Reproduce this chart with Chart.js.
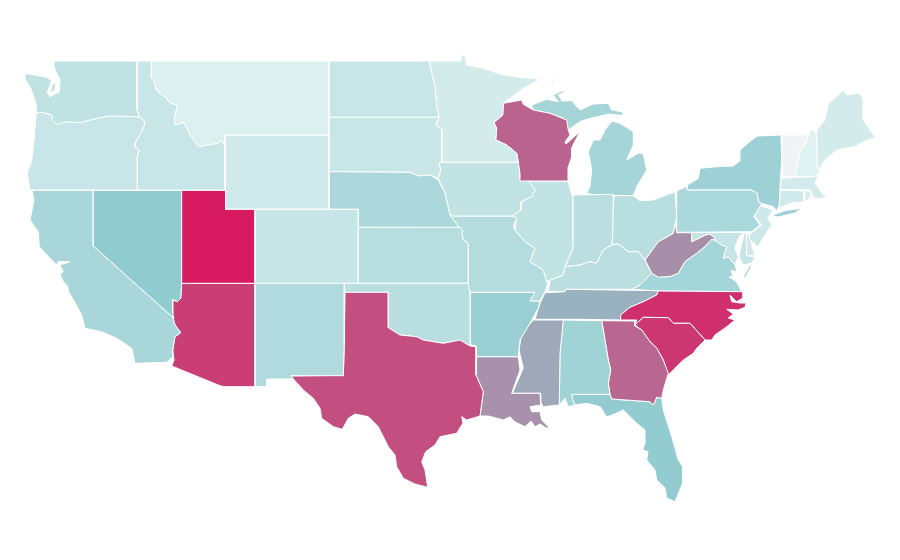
<!DOCTYPE html>
<html>
<head>
<meta charset="utf-8">
<title>US states map</title>
<script src="https://cdn.jsdelivr.net/npm/chart.js@4"></script>
<style>
    html, body { margin: 0; padding: 0; background: #fff; }
    #wrap { width: 900px; height: 560px; }
</style>
</head>
<body>
<div id="wrap"><canvas id="myChart" width="900" height="560"></canvas></div>
<script>
var stateNames = ["Washington", "Oregon", "Idaho", "Montana", "Wyoming", "Utah", "Nevada", "California", "Arizona", "Colorado", "New Mexico", "Texas", "Oklahoma", "Kansas", "Nebraska", "South Dakota", "North Dakota", "Minnesota", "Wisconsin", "Iowa", "Illinois", "Missouri", "Arkansas", "Louisiana", "Mississippi", "Alabama", "Georgia", "Florida", "South Carolina", "North Carolina", "Tennessee", "Kentucky", "Indiana", "Ohio", "Michigan", "Pennsylvania", "New York", "Vermont", "New Hampshire", "Maine", "Massachusetts", "Rhode Island", "Connecticut", "New Jersey", "Delaware", "Maryland", "Virginia", "West Virginia"];

// estimated from the shade of each state, 0 = palest, 1 = crimson
var stateValues = [0.26, 0.22, 0.22, 0.115, 0.18, 1, 0.5, 0.38, 0.9, 0.23, 0.34, 0.855, 0.3, 0.31, 0.36, 0.215, 0.22, 0.16, 0.795, 0.25, 0.25, 0.32, 0.455, 0.665, 0.6, 0.42, 0.785, 0.49, 0.92, 0.94, 0.57, 0.285, 0.285, 0.295, 0.39, 0.365, 0.435, 0.01, 0.105, 0.16, 0.16, 0.16, 0.18, 0.2, 0.19, 0.24, 0.4, 0.67];

// outline of each state in map units, one or more rings of x,y pairs
var stateOutlines = [
    [[54,61,137,61,137,110,139.3,116.7,108.7,116,93,119.3,80,122.7,66.7,121.7,56.7,124.3,52.7,120.7,51.7,115,43,112.3,36.7,112.7,36.7,106.7,35,100,30.7,88.3,25.7,80,25,73.3,35,75,46.7,77.3,51.7,80.7,47.3,92.7,50,96.7,59.3,91.7,60,80,56.7,73.3,54,66.7],
     [52,85,56,82,55,90,50,93]],
    [[36.7,112.7,43,112.3,51.7,115,52.7,120.7,56.7,124.3,66.7,121.7,80,122.7,93,119.3,108.7,116,139.3,116.7,145,121.7,143.3,128.3,135,143.3,135,147,139,150,137.3,156.7,137.3,190,30,190,27.3,173.3,31.7,160,34,140,36,115]],
    [[137,61,151.3,61,151.3,78,153.3,80,156.7,90.7,166.7,98.3,170,103.3,177.3,105,174,118.3,175,125,184,122.7,190,135,198.3,146.7,218.3,143.3,220.7,140,225,145,225,190,137.3,190,137.3,156.7,139,150,135,147,135,143.3,143.3,128.3,145,121.7,139.3,116.7,137,110]],
    [[151.3,61,329,61,329,135,225.5,135,225,145,220.7,140,218.3,143.3,198.3,146.7,190,135,184,122.7,175,125,174,118.3,177.3,105,170,103.3,166.7,98.3,156.7,90.7,153.3,80,151.3,78]],
    [[225.5,135,329,135,329,209,225.5,209]],
    [[181.7,190.3,225.5,190.3,225.5,209.3,255,209.3,255,283.3,181.7,283.3]],
    [[93.3,190.3,181.7,190.3,181.7,283.3,180.7,298.3,177.3,301.7,172.3,299.3,172.7,313.3,174,318.3,93.3,246]],
    [[32,190.3,93.3,190.3,93.3,246,174,318.3,172.7,317.3,175,325,180.7,332.7,175,336.7,172.7,350,173,356.7,166.7,362.3,135,363.3,131.7,348.3,116.7,338.3,101.7,331.7,85,328.3,81.7,315,68.3,290.7,67.7,286,63.3,281.7,60,274,63.3,271.7,60,265,70,261.7,58.3,261.7,56.7,265,50,258.3,39.3,246.7,38.3,231.7,30,220,34,200]],
    [[181.7,283.3,255,283.3,255,386.7,224,386.7,220,385.7,171.7,366,174,360,172.7,350,175,336.7,180.7,332.7,175,325,172.7,317.3,172.7,300,177.3,301.7,180.7,298.3]],
    [[255,209.3,358.3,209.3,358.3,283.3,255,283.3]],
    [[255,283.3,344.3,283.3,344.3,343,343.3,375.7,290.7,375.7,293,379,266.7,379,266.7,386.7,255,386.7]],
    [[345,292.3,388.3,292.3,388.3,327.7,400,335,416.7,336.7,423.3,340,443.3,343.3,460,340,470,346,476,346.7,476,375,483.3,391.7,480,416,466.7,420,461.7,416.7,463,423,456.7,433.3,440,436.7,435,445,425.7,451.7,421.7,461.7,425,470,427.7,487.3,415,484,403.3,478.3,396.7,466.7,395,455,388.3,446.7,378.3,426.7,368.3,416.7,355,414,348.3,418.3,342.3,429.3,333.3,426.7,321.7,418.3,320,408.3,313.3,398.3,303.3,390,290.7,376,343.3,375.3,344.3,343.3]],
    [[344.3,283.3,468.3,283.3,470,293.3,470.7,345,470,346,460,340,443.3,343.3,423.3,340,416.7,336.7,400,335,388.3,327.7,388.3,292.3,345,292.3]],
    [[358.3,227.3,460,227.3,463.3,231.7,461.7,233.3,463.3,240,468.3,243.3,468.3,283.3,358.3,283.3]],
    [[329.3,171.7,410,172.3,418.3,176,430,175,438.3,180,445,193.3,450,215,460,228.3,358.3,227.3,358.3,209.3,329.3,209.3]],
    [[329.3,117.3,439,117.3,435.7,125,441.7,129.3,441.7,161.7,439,163.3,440.7,170,438.3,178.3,430,175,418.3,176,410,172.3,329.3,171.7]],
    [[329.3,61,429.3,61,431.7,73.3,435,86.7,436.7,106.7,439,117.3,329.3,117.3]],
    [[429.3,61,460.7,61,461.7,55,465,55,466.7,65,483.3,68.3,503.3,75,520,77.3,540,79.3,523.3,88.3,503.3,103.3,502.7,115,494,122.7,496.7,128.3,495.7,140,506.7,145,516.7,153.3,518.3,162.3,439,162.3,441.7,161.7,441.7,129.3,435.7,125,439,117.3,436.7,106.7,435,86.7,431.7,73.3]],
    [[503.3,103.3,521.7,100,523.3,104.3,533.3,110,550,113.3,566.7,120,568.3,130,570,135,565,142,566,144,574,137,580,131.7,575,141,571.7,148,571.7,157,568.3,167,568.3,181,520,181,520,173.3,518.3,162.3,516.7,153.3,506.7,145,495.7,140,496.7,128.3,494,122.7,502.7,115]],
    [[439,162.3,518.3,162.3,520,173.3,520,178.3,526.7,178.3,535,190,531.7,196.7,521,201.7,521,210,511.7,216,453.3,216,450,215,445,193.3,438.3,178.3,440.7,170,439,163.3]],
    [[520,181,568.3,181,571.7,195,572.7,195,572.7,240,573,248,565,266.7,563.3,275,550,280,546.7,281.7,543.3,270,530,261.7,535,248.3,525,241.7,515,230,516.7,218,511.7,216,521,210,521,201.7,531.7,196.7,535,190,526.7,178.3]],
    [[453.3,216,511.7,216,516.7,218,513.3,226.7,515,230,525,241.7,535,248.3,530,261.7,543.3,270,546.7,281.7,548.3,281.7,545,291.7,540,301,530,301,535,292.3,468.3,292.3,468.3,243.3,463.3,240,461.7,233.3,463.3,231.7,460,228.3,450,215]],
    [[469.3,292.3,535,292.3,530,301,540,301,538.3,308.3,530,323.3,520,340,518.3,356.7,476.7,356.7,476,346,470.7,345]],
    [[476.7,356.7,518.3,356.7,520,370,511.7,393.3,540,393.3,540.7,405,530,406.7,531.7,411.7,540,411.7,541.7,420,548.3,426.7,548.3,429.3,540,424,535,426.7,531,421,525,426.7,515,422,510,416.7,503.3,420,488.3,416,480,416,483.3,391.7,476,375]],
    [[533.3,320,563.3,320,560,353.3,559.3,405,543.3,406.7,538.3,398,540,393.3,512.3,393.3,523.3,368,519,350,521.7,333.3]],
    [[563.3,320,601.7,320.7,608.3,360,610.7,370,608.3,383.3,610,394.3,571.7,394.3,572.7,400,575,405,568.3,406.7,565,398.3,559.3,405,560,353.3]],
    [[601.7,320.7,635,321,635,326,641.7,330,650,341.7,656.7,348,663.3,360,668.3,373.3,663.3,390,661.7,398.3,656.7,397.3,653.3,405,650,401.7,611.7,399,610,394.3,608.3,383.3,610.7,370,608.3,360]],
    [[571.7,394.3,610,394.3,611.7,399,650,401.7,653.3,405,656.7,397.3,661.7,398.3,663.3,410,671.7,436.7,678.3,460,682.7,467,682.7,483,675,501.7,666.7,498,665,488,656.7,480,655,470,646.7,460,648,451.7,642.7,450,645,443,645,430,636.7,423.3,623.3,410,616.7,413,606.7,417,600,406.7,586.7,403.3,575,405,572.7,400]],
    [[635,325,643.3,317.3,668.3,317.7,673.3,323.3,690,323.3,705,340,696.7,348.3,693.3,353.3,683.3,360,675,368.3,668.3,375,663.3,360,656.7,348.3,650,341.7,641.7,330]],
    [[658.3,291,743.3,291.7,743,298,736.7,301.7,730,295,731.7,301.7,740,303,746,303,745,307.3,738,310,726.7,309.3,733.3,314,728.3,318,735,320,726.7,326.7,715,335,711.7,340,705,340,690,323.3,673.3,323.3,668.3,317.7,643.3,317.3,635,325,636.7,320,620.7,320,620.7,315,630,307.3,643.3,301.7,656.7,295]],
    [[545,292.7,565,291.7,566,289.3,658.3,290.7,656.7,295,643.3,301.7,630,307.3,620.7,315,620.7,320,580,319.3,535,319.3,540,303.3]],
    [[548.3,291.7,550,280,563.3,275,565,266.7,580,265,590,261.7,596.7,263.3,603.3,250,611.7,245,618.3,244,628.3,251.7,638.3,251.7,645,260,651.7,273.3,640,285,631.7,289.3,566,289.3,565,291.7]],
    [[572.7,195,613.3,194.3,612.7,236.7,611.7,245,603.3,250,596.7,263.3,590,261.7,580,265,565,266.7,573,248,572.7,240]],
    [[614,195.7,633.3,195.7,640,200.7,653.3,200,675,191.7,676.7,216.7,673.3,233.3,658.3,241.7,653.3,248.3,645,260,638.3,251.7,628.3,251.7,618.3,244,611.7,245,612.7,220]],
    [[593.3,195,633.3,195.7,636.7,186.7,646.7,170,643.3,153.3,638.3,153.3,626.7,160,633.3,145,633.3,131.7,620,123.3,611.7,121,605,130,600,140,593.3,140,588.3,151.7,591.7,170,590,186.7,586.7,193],
     [531.7,105,546.7,99.3,558.3,101.7,553.3,95,560,91.7,568.3,90,558.3,95,562,101,571.7,100.7,580,110,593.3,104,608.3,103.3,611.7,110,621.7,111.7,623.3,115.7,610,114,590,118.3,580,121.7,568.3,130,563.3,118.3,550,113.3,533.3,110],
     [549,81,556,78,553,81]],
    [[676.7,191,687.3,186,687.3,190,751.7,190,757.3,193.3,758.3,201.7,761.7,203.3,754,216.7,760,225,751.7,231.7,676.7,232.3]],
    [[687.3,190,687.3,185,698.3,178.3,700,168.3,716.7,166.7,733.3,166,740.7,160,740,150,751.7,140,757.3,136,781,135,781.7,160,780,186.7,779.3,205,776.7,211,773.3,206.7,761.7,203.3,758.3,201.7,757.3,193.3,751.7,190],
     [771.7,215.5,785,210.5,801.7,208.3,795,213,778,217]],
    [[781.7,135,808.3,135,805,145,800,150,795,176.7,782.7,176.7,781.7,160]],
    [[810,130.7,815,130,816.7,136.7,817.3,166.7,820,171.7,815,176.7,795,176.7,800,150,805,145,808.3,136.7]],
    [[816.7,130,825,120,828.3,103.3,840,93.3,843.3,90,846.7,95,860,92.7,863.3,100,863.3,120,875.7,138.3,866.7,140,855,146.7,836.7,150,825,160,820,168.3,817.3,166.7,816.7,136.7]],
    [[781,178.3,818.3,176,815,183,823.3,195,830,196,821.7,198.3,815,198.3,811.7,195,810,190,780.7,189.3]],
    [[805,191,810,191,811,196.7,805,201.7]],
    [[780,190,804,191,804,201.7,790,203.3,779.3,208]],
    [[758,205,773,210,768,218,771.7,225,763,238,758,246.7,750,240,749,235,755,230,761.7,225,755,216.7]],
    [[746.7,231.7,750,236.7,751.7,245,755,255.7,746.7,255.7]],
    [[691.7,232.5,743,232.5,738.3,238.3,735,248.3,738.3,256.7,735,265,728.3,256.7,723.3,258.3,726.7,246.7,721.7,245,716.7,241.7,711.7,235,708.3,234,703.3,236,691.7,241.7],
     [744,233,746,233,746.7,255.7,755,256.7,751.7,263,743,265,739,256.7,740.7,248,742.7,240]],
    [[651.7,273.3,658.3,277.3,670,276.7,678.3,273.3,685,261.7,696.7,253.3,705,246.7,711.7,239.3,716.7,241,721.7,245,726.7,246.7,723.3,258.3,728.3,256.7,735,265,737,272,731,270,733,276,729,277,736,281,741.7,291.7,658.3,291,631.7,289.3,640,285],
     [750,265,751.7,266,745,278,743.3,276.7]],
    [[645,260,653.3,248.3,658.3,241.7,673.3,233.3,675,220,676.7,232.7,691.7,232.7,691.7,241.7,703.3,236,708.3,234,715,236,716.7,240.5,711.7,239.3,705,246.7,696.7,253.3,685,261.7,678.3,273.3,670,276.7,658.3,277.3,651.7,273.3]]
];

// value -> colour, pale grey through teal up to crimson
var scaleStops = [0, 0.1, 0.5, 1];
var scaleColors = [[243, 244, 245], [224, 241, 241], [144, 203, 207], [216, 27, 96]];

function valueColor(v) {
    var k = 0;
    while (k < scaleStops.length - 2 && v > scaleStops[k + 1]) {
        k++;
    }
    var t = (v - scaleStops[k]) / (scaleStops[k + 1] - scaleStops[k]);
    var c = scaleColors[k].map(function (x, i) { return Math.round(x + (scaleColors[k + 1][i] - x) * t); });
    return 'rgb(' + c[0] + ',' + c[1] + ',' + c[2] + ')';
}

function ringToPoints(ring) {
    var points = [];
    for (var i = 0; i < ring.length; i += 2) {
        points.push({ x: ring[i], y: ring[i + 1] });
    }
    points.push({ x: ring[0], y: ring[1] }); // close the shape
    return points;
}

var datasets = [];
stateNames.forEach(function (name, i) {
    stateOutlines[i].forEach(function (ring) {
        datasets.push({
            label: name,
            data: ringToPoints(ring),
            showLine: true,
            fill: 'shape',
            backgroundColor: valueColor(stateValues[i]),
            borderColor: '#fff',
            borderWidth: 1,
            tension: 0,
            pointRadius: 0,
            pointHoverRadius: 0
        });
    });
});

new Chart(document.getElementById('myChart').getContext('2d'), {
    type: 'scatter',
    data: { datasets: datasets },
    options: {
        responsive: false,
        animation: false,
        layout: { padding: 0 },
        plugins: {
            legend: { display: false },
            tooltip: { enabled: false }
        },
        scales: {
            x: { type: 'linear', min: 0, max: 900, display: false },
            y: { type: 'linear', min: 0, max: 560, reverse: true, display: false }
        }
    }
});
</script>
</body>
</html>
